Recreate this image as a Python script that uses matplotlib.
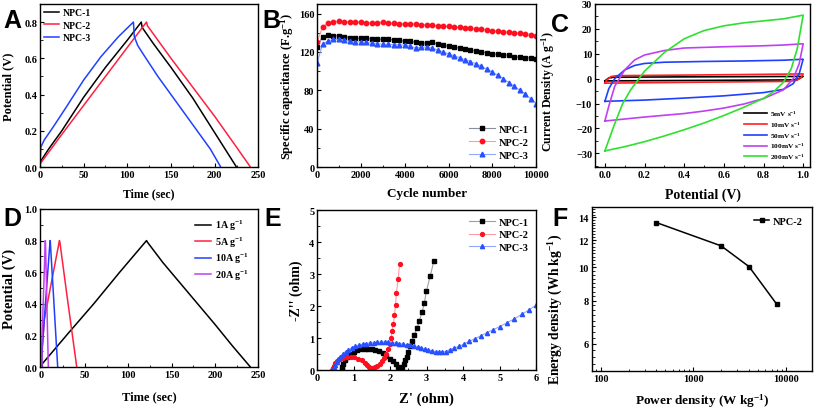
import numpy as np
import matplotlib
matplotlib.use('Agg')
from matplotlib import pyplot as plt
from matplotlib.ticker import MultipleLocator, FixedLocator, NullFormatter, LogLocator

plt.rcParams['font.family'] = 'Liberation Serif'
plt.rcParams['font.weight'] = 'bold'
plt.rcParams['axes.labelweight'] = 'bold'
plt.rcParams['mathtext.default'] = 'regular'
plt.rcParams['xtick.direction'] = 'in'
plt.rcParams['ytick.direction'] = 'in'
plt.rcParams['axes.linewidth'] = 1.0

# ---- A: GCD of three samples ----
a_npc1_t = [0, 0.5, 10, 25, 50, 75, 100, 116, 117, 130, 150, 175, 200, 225]
a_npc1_v = [0, 0.03, 0.10, 0.20, 0.385, 0.55, 0.70, 0.80, 0.77, 0.68, 0.55, 0.38, 0.19, 0.0]
a_npc2_t = [0, 0.5, 25, 50, 75, 100, 122, 123, 150, 175, 200, 225, 241]
a_npc2_v = [0, 0.02, 0.18, 0.34, 0.50, 0.66, 0.80, 0.78, 0.60, 0.44, 0.28, 0.11, 0.0]
a_npc3_t = [0, 1, 5, 15, 30, 50, 70, 90, 107, 108, 112, 120, 135, 150, 165, 180, 195, 207]
a_npc3_v = [0, 0.11, 0.15, 0.22, 0.33, 0.48, 0.61, 0.72, 0.80, 0.72, 0.67, 0.61, 0.50, 0.40, 0.30, 0.20, 0.10, 0.0]

# ---- B: cycling stability ----
b_cycles = list(range(0, 10001, 250))
b_npc1 = [125, 136, 137.5, 137, 136.5, 136, 135, 134.5, 134, 134, 133.5, 133.5, 133, 133, 132.5,
          132, 131.5, 131, 130, 129.5, 129, 130.5, 128, 127, 126, 125, 124, 123, 122, 121, 120,
          119, 118, 117.5, 117, 116.5, 115, 114.5, 114, 113.5, 112.5]
b_npc2 = [130, 146, 150, 151, 152, 151.5, 151, 151.5, 151, 150.5, 150.5, 150.5, 151, 150, 150,
          149, 149.5, 149, 149.5, 148.5, 148, 148, 147, 146.5, 146.5, 146, 145.5, 145, 144.5, 144,
          143.5, 143, 142, 141.5, 141, 140.5, 140, 139.5, 139, 138, 137]
b_npc3 = [108, 128, 131.5, 133, 133, 132.5, 131, 130.5, 130.5, 130, 129, 128.5, 128, 128, 127.5,
          127.5, 127, 126, 124, 125, 125, 124, 122, 120, 118, 116, 114, 112, 110, 107.5, 105,
          102, 99, 95.5, 92, 88, 84, 80, 76, 71, 66]

# ---- C: CV at scan rates (forward branch then reverse branch) ----
c_labels = ['5mV s$^{-1}$', '10mV s$^{-1}$', '50mV s$^{-1}$', '100mV s$^{-1}$', '200mV s$^{-1}$']
c_colors = ['black', '#ff2020', '#2040ff', '#c040f0', '#30e030']
c_x = [
    [0.0, 0.02, 0.05, 0.5, 1.0, 0.98, 0.95, 0.5, 0.0],
    [0.0, 0.01, 0.03, 0.06, 0.5, 1.0, 0.99, 0.97, 0.93, 0.5, 0.0],
    [0.0, 0.02, 0.05, 0.1, 0.15, 0.2, 0.3, 0.5, 0.7, 0.9, 1.0,
     0.98, 0.95, 0.9, 0.8, 0.6, 0.4, 0.2, 0.0],
    [0.0, 0.02, 0.05, 0.1, 0.15, 0.2, 0.3, 0.4, 0.6, 0.8, 0.9, 1.0,
     0.98, 0.95, 0.9, 0.8, 0.7, 0.6, 0.5, 0.4, 0.3, 0.2, 0.1, 0.0],
    [0.0, 0.05, 0.09, 0.13, 0.2, 0.3, 0.4, 0.5, 0.6, 0.7, 0.8, 0.9, 1.0,
     0.97, 0.94, 0.9, 0.85, 0.8, 0.7, 0.6, 0.5, 0.4, 0.3, 0.2, 0.1, 0.0],
]
c_y = [
    [-0.9, 0.3, 0.6, 0.75, 0.9, 0.0, -0.5, -0.7, -0.9],
    [-1.8, -0.5, 0.8, 1.2, 1.5, 1.9, 0.5, -0.6, -1.1, -1.4, -1.8],
    [-9.1, -4, 0, 3.5, 5.3, 6.1, 6.6, 6.9, 7.1, 7.4, 7.8,
     2, -2, -4.3, -5.6, -6.9, -7.8, -8.6, -9.1],
    [-17, -11, -3, 3.5, 7.5, 9.5, 11.3, 12.3, 12.8, 13.2, 13.5, 14,
     6, 0, -4.5, -8, -10.2, -11.8, -13, -14, -14.7, -15.4, -16.2, -17],
    [-29, -18, -10, -4.5, 3, 10.5, 16, 19.3, 21.2, 22.4, 23.2, 24, 25.5,
     12, 4, -1.5, -5.3, -7.9, -11.5, -14.8, -17.8, -20.5, -23, -25.3, -27.3, -29],
]

# ---- D: GCD of NPC-2 at current densities ----
d_labels = ['1A g$^{-1}$', '5A g$^{-1}$', '10A g$^{-1}$', '20A g$^{-1}$']
d_colors = ['black', '#ff2040', '#2040ff', '#c040f0']
d_t = [
    [0, 0.5, 30, 60, 90, 121, 122, 140, 160, 180, 200, 220, 241],
    [0, 0.5, 3, 20.5, 21, 30, 40.5],
    [0, 0.3, 9.7, 10, 18.5],
    [0, 0.2, 4.2, 4.4, 7.7],
]
d_v = [
    [0, 0.02, 0.21, 0.40, 0.60, 0.80, 0.79, 0.66, 0.53, 0.40, 0.27, 0.135, 0],
    [0, 0.1, 0.3, 0.80, 0.79, 0.42, 0],
    [0, 0.1, 0.80, 0.79, 0],
    [0, 0.15, 0.80, 0.79, 0],
]

# ---- E: Nyquist plots ----
e_npc1_x = [0.67, 0.69, 0.72, 0.76, 0.82, 0.9, 1.0, 1.1, 1.2, 1.3, 1.4, 1.5, 1.6, 1.7, 1.8, 1.9,
            2.0, 2.08, 2.15, 2.21, 2.26, 2.29, 2.33, 2.37, 2.41, 2.45, 2.5, 2.54, 2.6, 2.66,
            2.74, 2.8, 2.88, 2.94, 2.99, 3.1, 3.2]
e_npc1_y = [0.0, 0.1, 0.2, 0.3, 0.4, 0.5, 0.57, 0.62, 0.65, 0.67, 0.67, 0.66, 0.63, 0.59, 0.52,
            0.44, 0.35, 0.27, 0.18, 0.1, 0.04, 0.02, 0.08, 0.18, 0.3, 0.42, 0.58, 0.76, 0.92,
            1.1, 1.31, 1.54, 1.83, 2.11, 2.46, 2.95, 3.42]
e_npc2_x = [0.41, 0.43, 0.46, 0.5, 0.56, 0.63, 0.72, 0.82, 0.92, 1.02, 1.12, 1.22, 1.3, 1.37,
            1.43, 1.48, 1.52, 1.58, 1.65, 1.72, 1.78, 1.84, 1.9, 1.95, 1.99, 2.03, 2.05, 2.09,
            2.12, 2.15, 2.17, 2.22, 2.26]
e_npc2_y = [0.0, 0.07, 0.14, 0.21, 0.28, 0.34, 0.38, 0.4, 0.41, 0.4, 0.36, 0.3, 0.23, 0.16,
            0.1, 0.06, 0.05, 0.08, 0.13, 0.2, 0.28, 0.38, 0.5, 0.65, 0.82, 1.0, 1.23, 1.44,
            1.72, 2.04, 2.4, 2.84, 3.33]
e_npc3_x = [0.45, 0.47, 0.5, 0.54, 0.58, 0.63, 0.7, 0.78, 0.86, 0.95, 1.05, 1.15, 1.25, 1.35,
            1.45, 1.55, 1.65, 1.75, 1.85, 1.95, 2.05, 2.15, 2.25, 2.35, 2.45, 2.55, 2.65, 2.75,
            2.85, 2.95, 3.05, 3.15, 3.25, 3.33, 3.42, 3.52, 3.63, 3.75, 3.88, 4.02, 4.17, 4.32,
            4.48, 4.65, 4.82, 5.0, 5.2, 5.4, 5.6, 5.8, 6.0]
e_npc3_y = [0.0, 0.08, 0.17, 0.26, 0.34, 0.42, 0.5, 0.58, 0.64, 0.7, 0.75, 0.78, 0.81, 0.83,
            0.85, 0.86, 0.87, 0.88, 0.88, 0.87, 0.86, 0.85, 0.83, 0.81, 0.79, 0.77, 0.75, 0.72,
            0.69, 0.66, 0.63, 0.6, 0.57, 0.56, 0.56, 0.58, 0.64, 0.68, 0.74, 0.81, 0.9, 0.98,
            1.07, 1.17, 1.26, 1.36, 1.48, 1.6, 1.74, 1.88, 2.03]

# ---- F: Ragone plot ----
f_power = [400, 2000, 4000, 8000]
f_energy = [13.5, 11.55, 10.05, 7.8]

TICK = 7.5

fig = plt.figure(figsize=(8.15, 4.1), dpi=100)
axA = fig.add_axes([0.049, 0.590, 0.268, 0.398])
axB = fig.add_axes([0.389, 0.590, 0.269, 0.398])
axC = fig.add_axes([0.730, 0.590, 0.264, 0.398])
axD = fig.add_axes([0.049, 0.102, 0.268, 0.386])
axE = fig.add_axes([0.389, 0.095, 0.269, 0.390])
axF = fig.add_axes([0.726, 0.093, 0.270, 0.400])

for ax in [axA, axB, axC, axD, axE, axF]:
    ax.tick_params(labelsize=TICK, length=3, width=0.8, pad=2)
    ax.tick_params(which='minor', length=1.8, width=0.6)

# A
axA.plot(a_npc1_t, a_npc1_v, color='black', lw=1.1, label='NPC-1')
axA.plot(a_npc2_t, a_npc2_v, color='#ff2040', lw=1.1, label='NPC-2')
axA.plot(a_npc3_t, a_npc3_v, color='#2040ff', lw=1.1, label='NPC-3')
axA.set_xlim(0, 250)
axA.set_ylim(0, 0.9)
axA.xaxis.set_major_locator(MultipleLocator(50))
axA.xaxis.set_minor_locator(MultipleLocator(25))
axA.yaxis.set_major_locator(FixedLocator([0, 0.2, 0.4, 0.6, 0.8]))
axA.yaxis.set_minor_locator(MultipleLocator(0.1))
axA.yaxis.set_major_formatter(plt.FormatStrFormatter('%.1f'))
axA.set_xlabel('Time (sec)', fontsize=8.5, labelpad=6)
axA.set_ylabel('Potential (V)', fontsize=9, labelpad=7)
axA.legend(loc='upper left', frameon=False, fontsize=7, handlelength=1.5,
           handletextpad=0.4, labelspacing=0.35, borderaxespad=0.05)

# B
axB.plot(b_cycles, b_npc1, color='#8890a0', lw=0.8, marker='s', ms=3, mfc='black', mec='black', label='NPC-1')
axB.plot(b_cycles, b_npc2, color='#ff9aa8', lw=0.8, marker='o', ms=3.2, mfc='#ff1020', mec='#ff1020', label='NPC-2')
axB.plot(b_cycles, b_npc3, color='#90a8ff', lw=0.8, marker='^', ms=3.4, mfc='#2850ff', mec='#2850ff', label='NPC-3')
axB.set_xlim(0, 10000)
axB.set_ylim(0, 170)
axB.xaxis.set_major_locator(MultipleLocator(2000))
axB.xaxis.set_minor_locator(MultipleLocator(1000))
axB.yaxis.set_major_locator(MultipleLocator(40))
axB.yaxis.set_minor_locator(MultipleLocator(20))
axB.set_xlabel('Cycle number', fontsize=9.5, labelpad=6)
axB.set_ylabel('Specific capacitance (F.g$^{-1}$)', fontsize=9, labelpad=2)
axB.legend(loc='lower right', frameon=False, fontsize=7.5, handlelength=2.5,
           handletextpad=0.4, labelspacing=0.35, borderaxespad=0.3)

# C
for xs, ys, lab, col in zip(c_x, c_y, c_labels, c_colors):
    axC.plot(xs, ys, color=col, lw=1.2, label=lab)
axC.set_xlim(-0.05, 1.035)
axC.set_ylim(-35.5, 30)
axC.xaxis.set_major_locator(MultipleLocator(0.2))
axC.xaxis.set_minor_locator(MultipleLocator(0.1))
axC.yaxis.set_major_locator(MultipleLocator(10))
axC.yaxis.set_minor_locator(MultipleLocator(5))
axC.xaxis.set_major_formatter(plt.FormatStrFormatter('%.1f'))
axC.set_xlabel('Potential (V)', fontsize=10, labelpad=6)
axC.set_ylabel('Current Density (A g$^{-1}$)', fontsize=8.5, labelpad=1)
axC.yaxis.set_label_coords(-0.175, 0.47)
axC.legend(loc='lower right', frameon=False, fontsize=5.3, handlelength=3.2,
           handletextpad=0.3, labelspacing=0.2, borderaxespad=0.4)

# D
for xs, ys, lab, col in zip(d_t, d_v, d_labels, d_colors):
    axD.plot(xs, ys, color=col, lw=1.1, label=lab)
axD.set_xlim(-2, 250)
axD.set_ylim(0, 1.0)
axD.xaxis.set_major_locator(MultipleLocator(50))
axD.xaxis.set_minor_locator(MultipleLocator(25))
axD.yaxis.set_major_locator(MultipleLocator(0.2))
axD.yaxis.set_minor_locator(MultipleLocator(0.1))
axD.yaxis.set_major_formatter(plt.FormatStrFormatter('%.1f'))
axD.set_xlabel('Time (sec)', fontsize=9, labelpad=8)
axD.set_ylabel('Potential (V)', fontsize=10.5, labelpad=6)
axD.legend(loc='upper right', frameon=False, fontsize=7.2, handlelength=1.6,
           handletextpad=0.4, labelspacing=0.2, borderaxespad=0.5)

# E
axE.plot(e_npc1_x, e_npc1_y, color='#a0a0a0', lw=0.8, marker='s', ms=2.6, mfc='black', mec='black', label='NPC-1')
axE.plot(e_npc2_x, e_npc2_y, color='#ff9aa8', lw=0.8, marker='o', ms=2.8, mfc='#ff1020', mec='#ff1020', label='NPC-2')
axE.plot(e_npc3_x, e_npc3_y, color='#90a8ff', lw=0.8, marker='^', ms=3, mfc='#2850ff', mec='#2850ff', label='NPC-3')
axE.set_xlim(0, 6)
axE.set_ylim(0, 5)
axE.xaxis.set_major_locator(MultipleLocator(1))
axE.xaxis.set_minor_locator(MultipleLocator(0.5))
axE.yaxis.set_major_locator(MultipleLocator(1))
axE.yaxis.set_minor_locator(MultipleLocator(0.5))
axE.set_xlabel("Z' (ohm)", fontsize=10.5, labelpad=7)
axE.set_ylabel("-Z'' (ohm)", fontsize=10, labelpad=4)
axE.legend(loc='upper right', frameon=False, fontsize=7.5, handlelength=2.5,
           handletextpad=0.4, labelspacing=0.3, borderaxespad=0.3)

# F
axF.plot(f_power, f_energy, color='black', lw=1.1, marker='s', ms=3, label='NPC-2')
axF.set_xscale('log')
axF.set_yscale('log')
axF.set_xlim(80, 19000)
axF.set_ylim(5, 15)
axF.xaxis.set_major_locator(FixedLocator([100, 1000, 10000]))
axF.xaxis.set_major_formatter(plt.FixedFormatter(['100', '1000', '10000']))
axF.xaxis.set_minor_locator(LogLocator(subs=np.arange(2, 10)))
axF.xaxis.set_minor_formatter(NullFormatter())
axF.yaxis.set_major_locator(FixedLocator([6, 8, 10, 12, 14]))
axF.yaxis.set_major_formatter(plt.FixedFormatter(['6', '8', '10', '12', '14']))
axF.yaxis.set_minor_locator(FixedLocator(np.arange(5, 15.01, 0.25)))
axF.yaxis.set_minor_formatter(NullFormatter())
axF.set_xlabel('Power density (W kg$^{-1}$)', fontsize=9.5, labelpad=6)
axF.set_ylabel('Energy density (Wh kg$^{-1}$)', fontsize=9.8, labelpad=2)
axF.yaxis.set_label_coords(-0.12, 0.38)
axF.legend(loc='upper right', frameon=False, fontsize=7.5, handlelength=1.5,
           handletextpad=0.3, borderaxespad=0.5)

# panel letters
letters = [('A', 3, 28), ('B', 262, 28), ('C', 551, 32), ('D', 3, 226), ('E', 264, 226), ('F', 552, 226)]
for s, px, py in letters:
    fig.text(px / 815, 1 - py / 410, s, fontsize=18, fontweight='bold',
             family='Liberation Sans', ha='left', va='baseline')

fig.savefig('out.png', dpi=100)
